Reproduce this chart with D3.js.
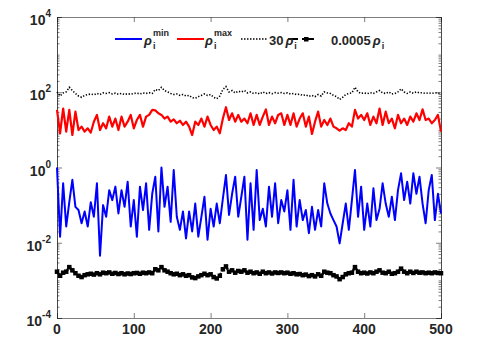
<!DOCTYPE html>
<html>
<head>
<meta charset="utf-8">
<script src="https://cdn.jsdelivr.net/npm/d3@7"></script>
<style>
  body { margin: 0; background: #fff; }
  text { font-family: "Liberation Sans", Arial, sans-serif; font-weight: bold; fill: #262626; }
  .axis path, .axis line { stroke: #262626; stroke-width: 0.6; }
</style>
</head>
<body>
<div id="chart"></div>
<script>
// sample index (every 4th step of 0..500)
var steps = d3.range(0, 501, 4);

// rho_i^min (blue)
var rhoMin = [
  1.0, 0.0145, 0.38, 0.027, 0.12, 0.47, 0.09, 0.074, 0.033, 0.068,
  0.027, 0.12, 0.049, 0.38, 0.0045, 0.1, 0.049, 0.25, 0.136, 0.31,
  0.06, 0.25, 0.09, 0.42, 0.027, 0.136, 0.0145, 0.31, 0.074, 0.38,
  0.022, 0.2, 0.57, 0.02, 1.0, 0.09, 0.31, 0.036, 0.86, 0.049,
  0.022, 0.068, 0.013, 0.068, 0.02, 0.11, 0.0145, 0.049, 0.167, 0.012,
  0.08, 0.027, 0.11, 0.033, 0.15, 0.63, 0.055, 0.2, 0.57, 0.049,
  0.167, 0.57, 0.012, 0.38, 0.022, 0.86, 0.04, 0.08, 0.027, 0.31,
  0.049, 0.38, 0.033, 0.136, 0.068, 0.25, 0.022, 0.47, 0.027, 0.136,
  0.04, 0.074, 0.018, 0.09, 0.022, 0.074, 0.027, 0.38, 0.11, 0.06,
  0.04, 0.027, 0.0096, 0.033, 0.11, 0.022, 0.136, 0.86, 0.049, 0.31,
  0.022, 0.11, 0.027, 0.28, 0.04, 0.08, 0.38, 0.11, 0.049, 0.167,
  0.04, 0.25, 0.7, 0.136, 0.42, 0.11, 0.7, 0.2, 0.57, 0.11,
  0.033, 0.25, 0.63, 0.04, 0.2, 0.06
];

// rho_i^max (red)
var rhoMax = [
  34, 8.1, 37, 9, 34, 7.3, 30.5, 9.9, 12.2, 9,
  11, 8.5, 16.5, 25, 9.9, 15, 11, 22.5, 12.2, 20,
  9.9, 22.5, 12.2, 16.5, 25, 11, 18.3, 25, 12.2, 22.5,
  25, 34, 33, 27.6, 25, 20, 22.5, 16.5, 19, 15,
  17.5, 13.5, 16.5, 12.2, 7.3, 16.5, 13.5, 20, 12.2, 22.5,
  13.5, 9.9, 12.2, 8.1, 20, 40, 18.3, 27.6, 16.5, 25,
  16.5, 20, 15, 27.6, 13.5, 25, 13.5, 22.5, 35, 13.5,
  22.5, 15, 25, 27.6, 13.5, 25, 13.5, 27.6, 12.2, 20,
  27.6, 12.2, 22.5, 7.8, 16.5, 30.5, 12.2, 18.3, 13.5, 20,
  12.2, 11, 9.5, 11, 9.9, 15, 12.2, 34, 20, 25,
  18.3, 27.6, 13.5, 22.5, 15, 37, 13.5, 30.5, 15, 20,
  11, 25, 15, 20, 13.5, 22.5, 16.5, 27.6, 18.3, 35,
  18.3, 20, 15, 18.3, 25, 9
];

// rho_i (shown scaled as 30*rho and 0.0005*rho)
var rho = [
  3.4, 2.65, 3.2, 3.4, 4.5, 3.7, 3.1, 2.65, 2.45, 2.75,
  2.9, 3.0, 2.85, 3.1, 2.9, 3.2, 3.1, 3.25, 3.0, 3.15,
  2.95, 3.1, 2.9, 3.05, 2.95, 3.1, 3.15, 3.0, 3.2, 3.1,
  3.25, 3.1, 3.95, 3.7, 4.5, 3.7, 3.4, 3.1, 2.9, 3.0,
  2.75, 2.9, 2.65, 2.75, 2.4, 2.3, 2.55, 2.75, 3.0, 2.75,
  2.9, 2.45, 2.25, 2.65, 3.95, 4.7, 3.4, 3.7, 3.2, 3.55,
  3.4, 3.7, 3.2, 3.4, 3.1, 3.25, 3.0, 3.4, 3.1, 3.25,
  3.05, 3.25, 3.15, 3.25, 3.1, 3.2, 3.0, 3.1, 2.9, 2.95,
  2.75, 2.85, 2.6, 2.75, 2.55, 2.9, 2.65, 3.4, 3.2, 3.1,
  2.75, 2.55, 2.15, 2.45, 2.9, 3.1, 3.2, 4.5, 3.4, 3.1,
  3.2, 3.05, 3.25, 3.1, 3.4, 3.7, 3.2, 3.1, 3.4, 3.0,
  3.1, 3.4, 4.1, 3.4, 3.1, 3.4, 3.15, 3.4, 3.2, 3.25,
  3.1, 3.2, 3.1, 3.25, 3.15, 3.1
];

var scaleHi = 30, scaleLo = 0.0005;

var xTicks = [0, 100, 200, 300, 400, 500];
var yMajor = [1e-4, 1e-2, 1, 1e2, 1e4];
var yExp = ["-4", "-2", "0", "2", "4"];

var WIDTH = 479, HEIGHT = 338,
    MARGINS = { top: 17, right: 38, bottom: 20, left: 57 };

var svg = d3.select("#chart").append("svg")
    .attr("width", WIDTH)
    .attr("height", HEIGHT);

var xScale = d3.scaleLinear().domain([0, 500]).range([MARGINS.left, WIDTH - MARGINS.right]);
var yScale = d3.scaleLog().domain([1e-4, 1e4]).range([HEIGHT - MARGINS.bottom, MARGINS.top]);

// minor log ticks
var yMinor = [];
for (var d = -4; d < 4; d++) {
  for (var k = 1; k < 10; k++) {
    var v = k * Math.pow(10, d);
    if (k == 1 && d % 2 == 0) continue;
    yMinor.push(v);
  }
}

var x0 = MARGINS.left, x1 = WIDTH - MARGINS.right,
    y0 = HEIGHT - MARGINS.bottom, y1 = MARGINS.top;

// axes (ticks point inward)
svg.append("g").attr("class", "axis")
  .attr("transform", "translate(0," + y0 + ")")
  .call(d3.axisBottom(xScale).tickValues(xTicks).tickSize(-5).tickFormat(""));
svg.append("g").attr("class", "axis")
  .attr("transform", "translate(0," + y1 + ")")
  .call(d3.axisTop(xScale).tickValues(xTicks).tickSize(-5).tickFormat(""));
svg.append("g").attr("class", "axis")
  .attr("transform", "translate(" + x0 + ",0)")
  .call(d3.axisLeft(yScale).tickValues(yMajor).tickSize(-5).tickFormat(""));
svg.append("g").attr("class", "axis")
  .attr("transform", "translate(" + x0 + ",0)")
  .call(d3.axisLeft(yScale).tickValues(yMinor).tickSize(-2.5).tickFormat(""));
svg.append("g").attr("class", "axis")
  .attr("transform", "translate(" + x1 + ",0)")
  .call(d3.axisRight(yScale).tickValues(yMajor).tickSize(-5).tickFormat(""));
svg.append("g").attr("class", "axis")
  .attr("transform", "translate(" + x1 + ",0)")
  .call(d3.axisRight(yScale).tickValues(yMinor).tickSize(-2.5).tickFormat(""));

// x tick labels
svg.selectAll(".xlab").data(xTicks).enter().append("text")
  .attr("class", "xlab")
  .attr("x", function(d) { return xScale(d); })
  .attr("y", y0 + 16)
  .style("text-anchor", "middle")
  .style("font-size", "14px")
  .text(function(d) { return d; });

// y tick labels 10^n
yMajor.forEach(function(v, i) {
  var t = svg.append("text")
    .attr("x", x0 - 6)
    .attr("y", yScale(v) + 8)
    .style("text-anchor", "end");
  t.append("tspan").style("font-size", "14px").text("10");
  t.append("tspan").style("font-size", "10px").attr("dy", -8).text(yExp[i]);
});

var line = d3.line()
  .x(function(d) { return xScale(d[0]); })
  .y(function(d) { return yScale(d[1]); });

function pairs(vals, mult) {
  return steps.map(function(s, i) { return [s, vals[i] * mult]; });
}

svg.append("path")
  .attr("d", line(pairs(rhoMin, 1)))
  .attr("fill", "none")
  .attr("stroke", "#0000ff")
  .attr("stroke-width", 2)
  .attr("stroke-linejoin", "round");

svg.append("path")
  .attr("d", line(pairs(rhoMax, 1)))
  .attr("fill", "none")
  .attr("stroke", "#ff0000")
  .attr("stroke-width", 2.2)
  .attr("stroke-linejoin", "round");

svg.append("path")
  .attr("d", line(pairs(rho, scaleHi)))
  .attr("fill", "none")
  .attr("stroke", "#000")
  .attr("stroke-width", 1.6)
  .style("stroke-dasharray", "1.3,1.7");

var lo = pairs(rho, scaleLo);
svg.append("path")
  .attr("d", line(lo))
  .attr("fill", "none")
  .attr("stroke", "#000")
  .attr("stroke-width", 2.5)
  .style("stroke-dasharray", "4,2");
svg.selectAll(".sq").data(lo).enter().append("rect")
  .attr("class", "sq")
  .attr("x", function(d) { return xScale(d[0]) - 2.25; })
  .attr("y", function(d) { return yScale(d[1]) - 2.25; })
  .attr("width", 4.5)
  .attr("height", 4.5)
  .attr("fill", "#000");

// legend
var ly = 39;
svg.append("line").attr("x1", 115).attr("x2", 142).attr("y1", ly).attr("y2", ly)
  .attr("stroke", "#0000ff").attr("stroke-width", 2);
svg.append("line").attr("x1", 177).attr("x2", 204).attr("y1", ly).attr("y2", ly)
  .attr("stroke", "#ff0000").attr("stroke-width", 2);
svg.append("line").attr("x1", 241).attr("x2", 267).attr("y1", ly).attr("y2", ly)
  .attr("stroke", "#000").attr("stroke-width", 1.5).style("stroke-dasharray", "1.5,1.5");
svg.append("line").attr("x1", 288).attr("x2", 298).attr("y1", ly).attr("y2", ly)
  .attr("stroke", "#000").attr("stroke-width", 2);
svg.append("line").attr("x1", 302).attr("x2", 314).attr("y1", ly).attr("y2", ly)
  .attr("stroke", "#000").attr("stroke-width", 2);
svg.append("rect").attr("x", 304).attr("y", ly - 2).attr("width", 4.5).attr("height", 4.5)
  .attr("fill", "#000");

function rhoLabel(x, pre, sup) {
  var t = svg.append("text").attr("x", x).attr("y", ly + 6).style("font-size", "13px");
  if (pre) t.append("tspan").text(pre);
  t.append("tspan").style("font-style", "italic").attr("dx", pre ? 2 : 0).text("\u03c1");
  var w = t.node().getComputedTextLength() + (pre ? 2 : 0);
  svg.append("text").attr("x", x + w + 1).attr("y", ly + 10)
    .style("font-size", "9px").text("i");
  if (sup) {
    svg.append("text").attr("x", x + w + 1).attr("y", ly - 3)
      .style("font-size", "9px").text(sup);
  }
}
rhoLabel(144, null, "min");
rhoLabel(205, null, "max");
rhoLabel(269, "30", null);
rhoLabel(331, "0.0005", null);
</script>
</body>
</html>
